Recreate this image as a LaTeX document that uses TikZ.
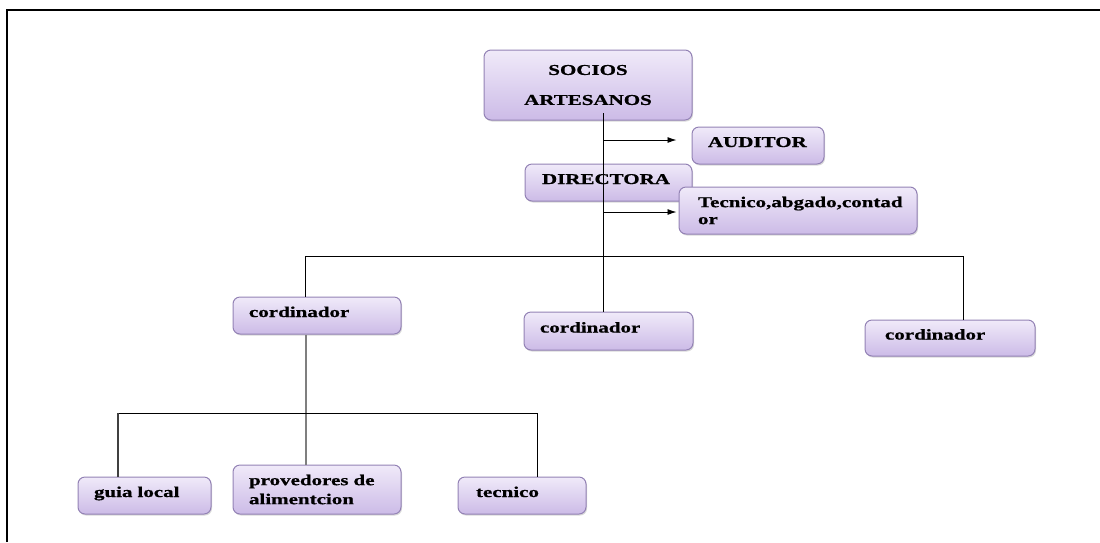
\documentclass[tikz,border=0pt]{standalone}
\usepackage{fontspec}
\newfontfamily\boxfont[FakeStretch=1.4,FakeBold=0.8]{Liberation Serif}
\usetikzlibrary{arrows.meta,shadows}
\definecolor{boxtop}{HTML}{F0EAF9}
\definecolor{boxbottom}{HTML}{CCBBE7}
\definecolor{boxline}{HTML}{9382B5}
\definecolor{linkgray}{HTML}{7F7F7F}
\begin{document}
\begin{tikzpicture}[x=1pt, y=-1pt,
    orgbox/.style={draw=boxline, line width=1pt, rounded corners=7pt,
      top color=boxtop, bottom color=boxbottom,
      drop shadow={shadow xshift=1pt, shadow yshift=-1.5pt, fill=black!30, opacity=0.5},
      font=\boxfont\bfseries\fontsize{15}{17}\selectfont,
      align=left, inner xsep=16pt, inner ysep=0pt},
    single/.style={text height=10pt, text depth=7pt},
    link/.style={line width=0.9pt},
    arrowlink/.style={link, -{Latex[length=9pt,width=6pt]}}]
  \useasboundingbox (0,0) rectangle (1100,542);
  \draw[line width=1.6pt] (7,542) -- (7,10) -- (1100,10);

  \node[orgbox, minimum width=208pt, minimum height=70pt, text width=176pt, align=center,
    font=\boxfont\bfseries\fontsize{15}{30}\selectfont] (socios) at (588,85) {SOCIOS\\ARTESANOS};
  \node[orgbox, single, minimum width=132pt, minimum height=37pt, text width=100pt] (auditor) at (758,145.5) {AUDITOR};
  \node[orgbox, single, minimum width=167pt, minimum height=37pt, text width=133pt, inner xsep=17pt] (directora) at (608.5,182.5) {DIRECTORA};
  \node[orgbox, minimum width=238pt, minimum height=47pt, text width=200pt, inner xsep=19pt] (staff) at (798,210.5) {Tecnico,abgado,contad\\or};

  \node[orgbox, single, minimum width=168pt, minimum height=37pt, text width=136pt] (cordA) at (317,315.5) {cordinador};
  \node[orgbox, single, minimum width=169pt, minimum height=38pt, text width=137pt] (cordB) at (608.5,331) {cordinador};
  \node[orgbox, single, minimum width=170pt, minimum height=36pt, text width=130pt, inner xsep=20pt] (cordC) at (950,338) {cordinador};

  \node[orgbox, single, minimum width=133pt, minimum height=37pt, text width=101pt] (guia) at (144.5,495.5) {guia local};
  \node[orgbox, minimum width=168pt, minimum height=49pt, text width=136pt,
    font=\boxfont\bfseries\fontsize{15}{19}\selectfont] (provedores) at (317,489.5) {provedores de\\alimentcion};
  \node[orgbox, single, minimum width=128pt, minimum height=37pt, text width=92pt, inner xsep=18pt] (tecnico) at (522,495.5) {tecnico};

  % lines from the top
  \coordinate (trunk) at (603,113);
  \draw[link] (trunk) -- (trunk |- cordB.north);
  \coordinate (auditorarrow) at ([xshift=-15pt]auditor.west);
  \coordinate (staffarrow) at ([xshift=-2pt]staff.west);
  \draw[arrowlink] (trunk |- 0,140) -- (auditorarrow |- 0,140);
  \draw[arrowlink] (trunk |- 0,212) -- (staffarrow |- 0,212);

  \coordinate (barleft) at (305,256);
  \coordinate (barright) at (963,256);
  \draw[link] (barleft |- cordA.north) -- (barleft) -- (barright) -- (barright |- cordC.north);

  % lower level
  \coordinate (stem) at (306,413);
  \coordinate (lowleft) at (118,413);
  \coordinate (lowright) at (537,413);
  \draw[line width=1.6pt, linkgray] (stem |- cordA.south) -- (stem |- provedores.north);
  \draw[link] (lowleft) -- (lowright);
  \draw[line width=1.3pt, black!75] (lowleft) -- (lowleft |- guia.north);
  \draw[link] (lowright) -- (lowright |- tecnico.north);
\end{tikzpicture}
\end{document}
